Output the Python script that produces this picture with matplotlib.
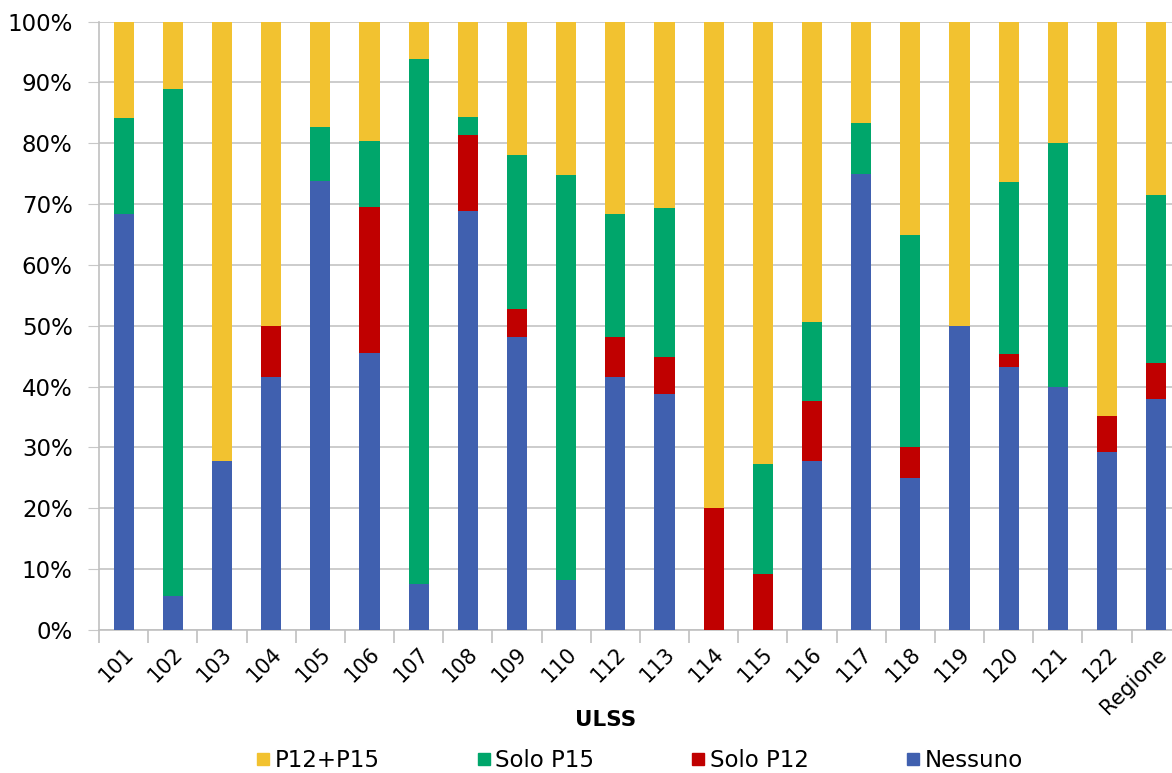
import matplotlib
matplotlib.use("Agg")
import matplotlib.pyplot as plt
import numpy as np
from matplotlib.ticker import FuncFormatter, FixedLocator

categories = ["101", "102", "103", "104", "105", "106", "107", "108", "109", "110",
              "112", "113", "114", "115", "116", "117", "118", "119", "120", "121",
              "122", "Regione"]

# percentuali per ULSS
nessuno = [68.3, 5.6, 27.8, 41.6, 73.8, 45.6, 7.5, 68.8, 48.2, 8.3,
           41.6, 38.8, 0.0, 0.0, 27.8, 75.0, 25.0, 50.0, 43.3, 40.0,
           29.3, 37.9]
solo_p12 = [0.0, 0.0, 0.0, 8.4, 0.0, 23.9, 0.0, 12.5, 4.6, 0.0,
            6.6, 6.1, 20.0, 9.2, 9.9, 0.0, 5.0, 0.0, 2.0, 0.0,
            5.9, 6.0]
solo_p15 = [15.8, 83.3, 0.0, 0.0, 8.8, 10.8, 86.4, 3.0, 25.3, 66.5,
            20.1, 24.5, 0.0, 18.1, 13.0, 8.3, 35.0, 0.0, 28.3, 40.0,
            0.0, 27.6]
p12_p15 = [100 - a - b - c for a, b, c in zip(nessuno, solo_p12, solo_p15)]

labels = ["P12+P15", "Solo P15", "Solo P12", "Nessuno"]
colors = {"Nessuno": "#4060AF", "Solo P12": "#C00000",
          "Solo P15": "#00A66B", "P12+P15": "#F2C230"}

fig = plt.figure(figsize=(11.72, 7.73), dpi=100)
# l'asse continua oltre il bordo destro come nell'originale
ax = fig.add_axes([0.0845, 0.185, 0.923, 0.787])

x = np.arange(len(categories))
w = 0.41
bottom = np.zeros(len(categories))
series = [("Nessuno", nessuno), ("Solo P12", solo_p12),
          ("Solo P15", solo_p15), ("P12+P15", p12_p15)]
for name, vals in series:
    ax.bar(x, vals, w, bottom=bottom, color=colors[name], zorder=3)
    bottom += np.array(vals)

ax.set_ylim(0, 100)
ax.set_xlim(-0.5, len(categories) - 0.5)
ax.set_yticks(np.arange(0, 101, 10))
ax.yaxis.set_major_formatter(FuncFormatter(lambda v, p: f"{int(v)}%"))
ax.grid(axis="y", color="#C8C8C8", linewidth=1.3, zorder=0)
ax.tick_params(axis="y", length=8, color="#C8C8C8", labelsize=16.5, pad=11)

ax.set_xticks(x)
ax.set_xticklabels(categories, rotation=45, ha="right", rotation_mode="anchor",
                   fontsize=15)
ax.tick_params(axis="x", which="major", length=0, pad=10)
ax.xaxis.set_minor_locator(FixedLocator(np.arange(-0.5, len(categories), 1)))
ax.tick_params(axis="x", which="minor", length=9, color="#C0C0C0", width=1.2)

for s in ["top", "right"]:
    ax.spines[s].set_visible(False)
ax.spines["left"].set_color("#C0C0C0")
ax.spines["bottom"].set_color("#C0C0C0")
ax.spines["left"].set_linewidth(1.2)
ax.spines["bottom"].set_linewidth(1.2)

fig.text(0.517, 0.068, "ULSS", ha="center", va="center", fontsize=15.5,
         fontweight="bold")

handles = [plt.Line2D([], [], marker="s", linestyle="", markersize=9,
                      color=colors[l]) for l in labels]
fig.legend(handles, labels, loc="center", bbox_to_anchor=(0.544, 0.016),
           ncol=4, frameon=False, fontsize=16.5, handletextpad=0.05,
           columnspacing=4.1, handlelength=0.9)

fig.savefig("out.png", dpi=100)
